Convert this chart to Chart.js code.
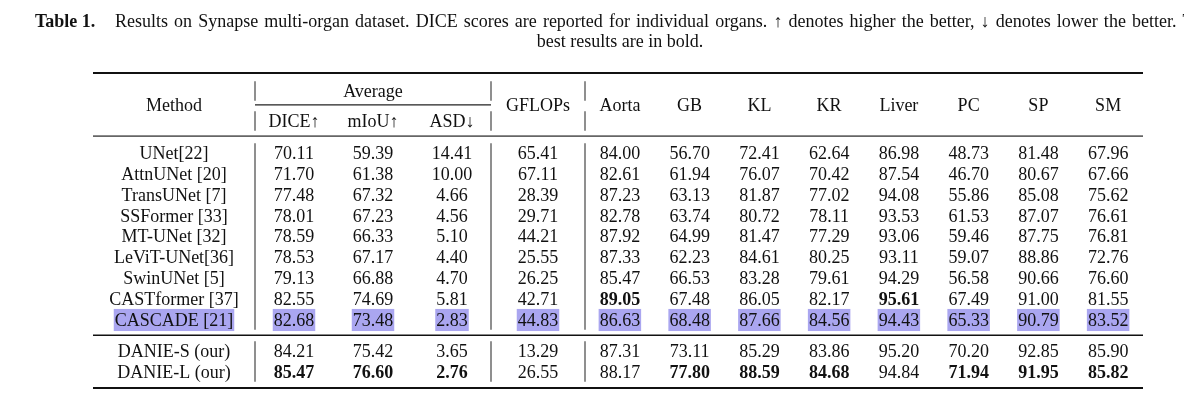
<!DOCTYPE html>
<html>
<head>
<meta charset="utf-8">
<script src="https://cdn.jsdelivr.net/npm/chart.js@4.4.0/dist/chart.umd.min.js"></script>
<style>
    html, body { margin: 0; padding: 0; background: #fff; }
    #wrap { width: 1184px; height: 409px; position: relative; }
</style>
</head>
<body>
<div id="wrap"><canvas id="tabla"></canvas></div>
<script>
// datos de la tabla
const methods = ['UNet[22]', 'AttnUNet [20]', 'TransUNet [7]', 'SSFormer [33]', 'MT-UNet [32]',
    'LeViT-UNet[36]', 'SwinUNet [5]', 'CASTformer [37]', 'CASCADE [21]', 'DANIE-S (our)', 'DANIE-L (our)'];
const dice   = [70.11, 71.70, 77.48, 78.01, 78.59, 78.53, 79.13, 82.55, 82.68, 84.21, 85.47];
const miou   = [59.39, 61.38, 67.32, 67.23, 66.33, 67.17, 66.88, 74.69, 73.48, 75.42, 76.60];
const asd    = [14.41, 10.00, 4.66, 4.56, 5.10, 4.40, 4.70, 5.81, 2.83, 3.65, 2.76];
const gflops = [65.41, 67.11, 28.39, 29.71, 44.21, 25.55, 26.25, 42.71, 44.83, 13.29, 26.55];
const aorta  = [84.00, 82.61, 87.23, 82.78, 87.92, 87.33, 85.47, 89.05, 86.63, 87.31, 88.17];
const gb     = [56.70, 61.94, 63.13, 63.74, 64.99, 62.23, 66.53, 67.48, 68.48, 73.11, 77.80];
const kl     = [72.41, 76.07, 81.87, 80.72, 81.47, 84.61, 83.28, 86.05, 87.66, 85.29, 88.59];
const kr     = [62.64, 70.42, 77.02, 78.11, 77.29, 80.25, 79.61, 82.17, 84.56, 83.86, 84.68];
const liver  = [86.98, 87.54, 94.08, 93.53, 93.06, 93.11, 94.29, 95.61, 94.43, 95.20, 94.84];
const pc     = [48.73, 46.70, 55.86, 61.53, 59.46, 59.07, 56.58, 67.49, 65.33, 70.20, 71.94];
const sp     = [81.48, 80.67, 85.08, 87.07, 87.75, 88.86, 90.66, 91.00, 90.79, 92.85, 91.95];
const sm     = [67.96, 67.66, 75.62, 76.61, 76.81, 72.76, 76.60, 81.55, 83.52, 85.90, 85.82];

const metricLabels = ['DICE↑', 'mIoU↑', 'ASD↓'];
const organLabels = ['Aorta', 'GB', 'KL', 'KR', 'Liver', 'PC', 'SP', 'SM'];
const boldCells = {
    'CASTformer [37]': ['Aorta', 'Liver'],
    'DANIE-L (our)': ['DICE↑', 'mIoU↑', 'ASD↓', 'GB', 'KL', 'KR', 'PC', 'SP', 'SM']
};
const highlightRow = 'CASCADE [21]';
const firstGroupSize = 9;

const captionLabel = 'Table 1.';
const captionLine1 = 'Results on Synapse multi-organ dataset. DICE scores are reported for individual organs. ↑ denotes higher the better, ↓ denotes lower the better. The';
const captionLine2 = 'best results are in bold.';

// columnas: clave, valores, ancho (unidades del eje x)
const columns = [
    { key: 'Method', values: methods, width: 162 },
    { key: 'DICE↑', values: dice, width: 78 },
    { key: 'mIoU↑', values: miou, width: 80 },
    { key: 'ASD↓', values: asd, width: 78 },
    { key: 'GFLOPs', values: gflops, width: 94 },
    { key: 'Aorta', values: aorta, width: 69.75 },
    { key: 'GB', values: gb, width: 69.75 },
    { key: 'KL', values: kl, width: 69.75 },
    { key: 'KR', values: kr, width: 69.75 },
    { key: 'Liver', values: liver, width: 69.75 },
    { key: 'PC', values: pc, width: 69.75 },
    { key: 'SP', values: sp, width: 69.75 },
    { key: 'SM', values: sm, width: 69.75 }
];
let acc = 0;
columns.forEach(c => { c.start = acc; c.center = acc + c.width / 2; acc += c.width; c.end = acc; });
const totalWidth = acc;

// filas en unidades del eje y (1 = una fila)
const layoutY = {
    head1: 0.86, subRule: 1.53, head2: 2.30, headMid: 1.55, headRule: 3.03,
    body: 3.84, groupGap: 0.49, groupRule: 12.57, bottom: 15.1,
    cap1: -2.49, cap2: -1.53, half: 0.47
};
const rowY = i => layoutY.body + i + (i >= firstGroupSize ? layoutY.groupGap : 0);

const FONT = '"Liberation Serif", "Times New Roman", serif';
const SIZE = 18;
const JUSTIFY = 1.6; // espacio extra entre palabras (línea justificada)

function fmt(v) {
    return typeof v === 'number' ? v.toFixed(2) : v;
}

const tablePlugin = {
    id: 'tablePlugin',
    afterDraw(chart) {
        const { ctx, scales: { x, y } } = chart;
        const px = v => x.getPixelForValue(v);
        const py = v => y.getPixelForValue(v);
        ctx.save();

        const text = (str, cx, cy, bold, align) => {
            ctx.font = (bold ? 'bold ' : '') + SIZE + 'px ' + FONT;
            ctx.textAlign = align || 'center';
            ctx.textBaseline = 'alphabetic';
            ctx.fillStyle = '#111';
            ctx.fillText(str, cx, cy + SIZE * 0.33);
        };
        const hline = (v, x0, x1, w, color) => {
            ctx.beginPath();
            ctx.lineWidth = w;
            ctx.strokeStyle = color;
            ctx.moveTo(x0, py(v));
            ctx.lineTo(x1, py(v));
            ctx.stroke();
        };
        const vline = (xv, y0, y1) => {
            ctx.beginPath();
            ctx.lineWidth = 1.1;
            ctx.strokeStyle = '#333';
            ctx.moveTo(px(xv), py(y0));
            ctx.lineTo(px(xv), py(y1));
            ctx.stroke();
        };

        // leyenda de la tabla
        const labelX = -58;
        text(captionLabel, px(labelX), py(layoutY.cap1), true, 'left');
        ctx.font = SIZE + 'px ' + FONT;
        const space = ctx.measureText(' ').width + JUSTIFY;
        let cx = px(labelX + 80);
        captionLine1.split(' ').forEach(word => {
            text(word, cx, py(layoutY.cap1), false, 'left');
            ctx.font = SIZE + 'px ' + FONT;
            cx += ctx.measureText(word).width + space;
        });
        text(captionLine2, px(totalWidth / 2 + 2), py(layoutY.cap2), false, 'center');

        // reglas horizontales
        const left = px(0), right = px(totalWidth);
        hline(0, left, right, 2, '#111');
        hline(layoutY.subRule, px(columns[1].start), px(columns[3].end), 1.2, '#222');
        hline(layoutY.headRule, left, right, 1.8, '#666');
        hline(layoutY.groupRule, left, right, 1.4, '#111');
        hline(layoutY.bottom, left, right, 2, '#111');

        // barras verticales (por bloques de filas)
        const bars = [columns[1].start, columns[4].start, columns[5].start];
        const blocks = [
            [layoutY.head1, layoutY.head1],
            [layoutY.head2, layoutY.head2],
            [rowY(0), rowY(firstGroupSize - 1)],
            [rowY(firstGroupSize), rowY(methods.length - 1)]
        ];
        blocks.forEach(([a, b]) => bars.forEach(xv => vline(xv, a - layoutY.half, b + layoutY.half)));

        // encabezados
        text('Method', px(columns[0].center), py(layoutY.headMid));
        text('Average', px((columns[1].start + columns[3].end) / 2), py(layoutY.head1));
        metricLabels.forEach((m, k) => text(m, px(columns[1 + k].center), py(layoutY.head2)));
        text('GFLOPs', px(columns[4].center), py(layoutY.headMid));
        organLabels.forEach((o, k) => text(o, px(columns[5 + k].center), py(layoutY.headMid)));

        // celdas
        methods.forEach((m, i) => {
            const cy = py(rowY(i));
            const bolds = boldCells[m] || [];
            columns.forEach(c => {
                const str = fmt(c.values[i]);
                const bold = bolds.includes(c.key);
                if (m === highlightRow) {
                    ctx.font = SIZE + 'px ' + FONT;
                    const w = ctx.measureText(str).width;
                    const top = py(rowY(i) - 0.53), bot = py(rowY(i) + 0.53);
                    ctx.fillStyle = 'rgb(170,166,240)';
                    ctx.fillRect(px(c.center) - w / 2 - 1, top, w + 2, bot - top);
                }
                text(str, px(c.center), cy, bold);
            });
        });
        ctx.restore();
    }
};

new Chart(document.getElementById('tabla'), {
    type: 'scatter',
    data: { datasets: [] },
    options: {
        responsive: true,
        maintainAspectRatio: false,
        animation: false,
        events: [],
        layout: { padding: { left: 93, right: 41, top: 73, bottom: 21 } },
        scales: {
            x: { type: 'linear', min: 0, max: totalWidth, display: false },
            y: { type: 'linear', min: 0, max: layoutY.bottom, reverse: true, display: false }
        },
        plugins: { legend: { display: false }, tooltip: { enabled: false } }
    },
    plugins: [tablePlugin]
});
</script>
</body>
</html>
